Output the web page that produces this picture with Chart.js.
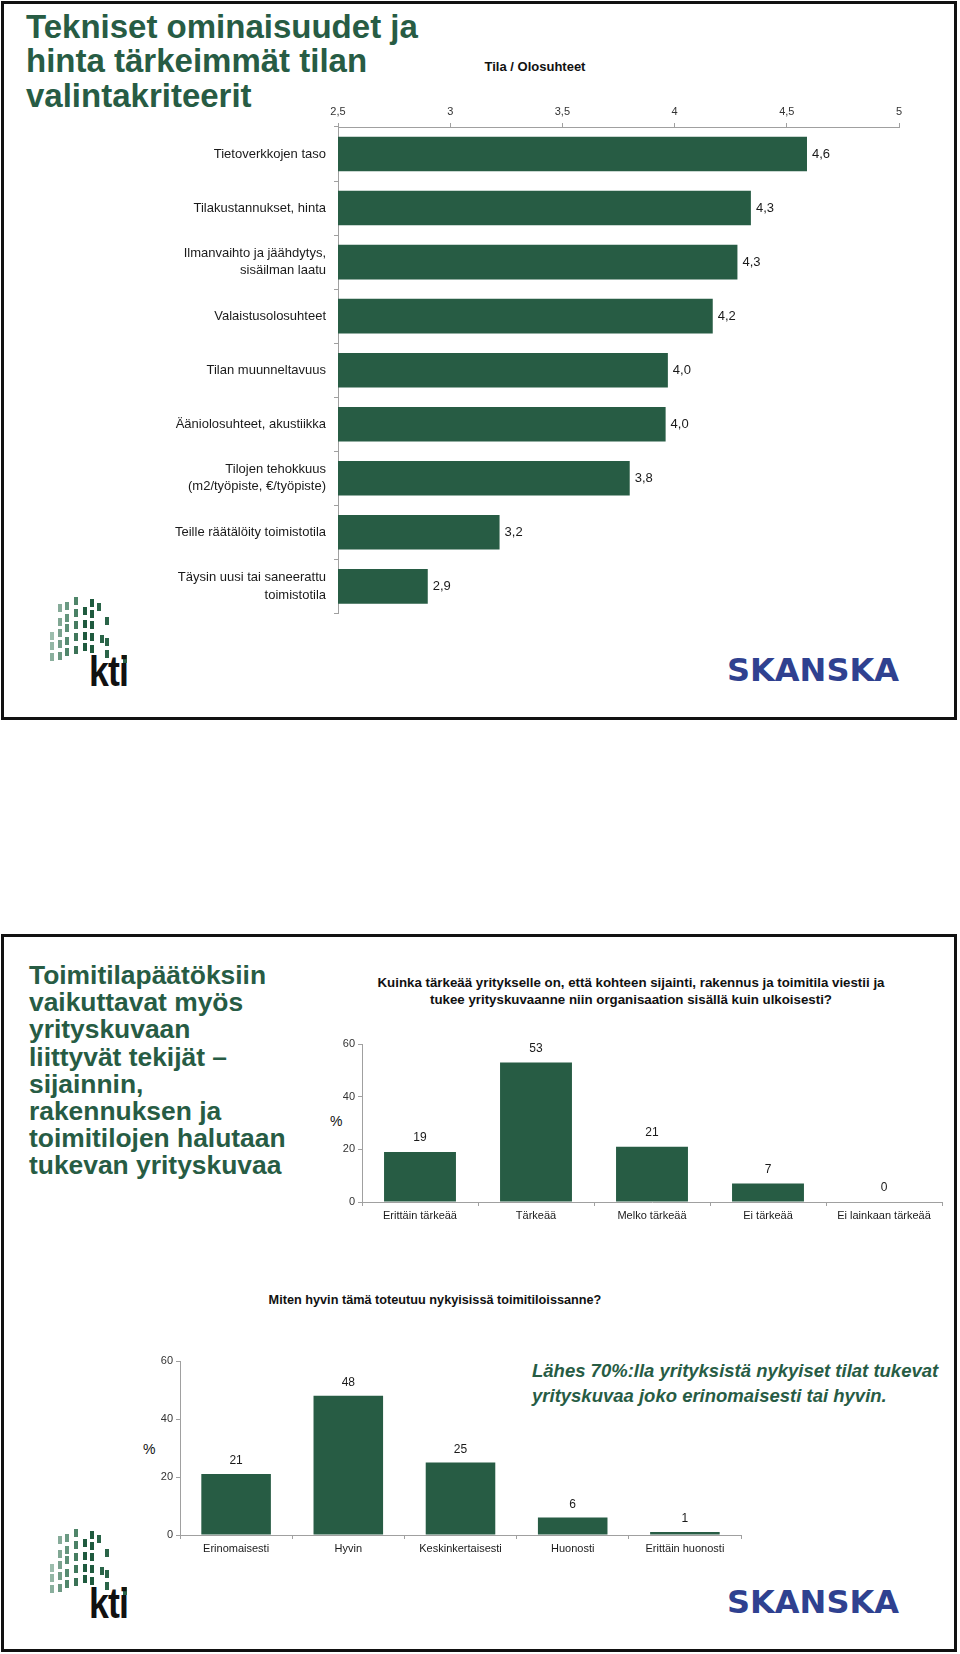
<!DOCTYPE html>
<html>
<head>
<meta charset="utf-8">
<script src="https://cdn.jsdelivr.net/npm/chart.js@4.4.1/dist/chart.umd.min.js"></script>
<style>
  html, body { margin: 0; padding: 0; }
  body { width: 960px; height: 1654px; position: relative; background: #fff; overflow: hidden;
         font-family: "Liberation Sans", Arial, sans-serif; color: #111; }
  .abs { position: absolute; }
  .panel { position: absolute; left: 1px; width: 956px; border: 3px solid #111; box-sizing: border-box; }
  .green { color: #275c44; }
  .bigtitle { font-weight: bold; font-size: 33px; line-height: 34.5px; white-space: nowrap; }
  .sidetitle { font-weight: bold; font-size: 26.4px; line-height: 27.2px; white-space: nowrap; }
  .ctitle { font-weight: bold; font-size: 12px; text-align: center; white-space: nowrap; color: #111; }
  .pct { font-size: 14px; color: #111; }
  .skanska { font-family: "DejaVu Sans", sans-serif; font-weight: bold; font-size: 32px; line-height: 32px; color: #2f4190; white-space: nowrap; }
  .kti { font-weight: bold; font-size: 42px; line-height: 42px; color: #111; transform: scaleX(0.85); transform-origin: left top; letter-spacing: -1px; }
  .blk { position: absolute; }
  canvas { position: absolute; }
</style>
</head>
<body>

<div class="panel" style="top:1px;height:719px;"></div>
<div class="panel" style="top:934px;height:718px;"></div>

<div class="abs bigtitle green" style="left:26px;top:9.5px;">Tekniset ominaisuudet ja<br>hinta tärkeimmät tilan<br>valintakriteerit</div>
<div class="abs ctitle" style="left:435px;top:59px;width:200px;font-size:13px;line-height:16px;">Tila / Olosuhteet</div>

<div class="abs sidetitle green" style="left:29px;top:962px;">Toimitilapäätöksiin<br>vaikuttavat myös<br>yrityskuvaan<br>liittyvät tekijät –<br>sijainnin,<br>rakennuksen ja<br>toimitilojen halutaan<br>tukevan yrityskuvaa</div>
<div class="abs ctitle" style="left:281px;top:973.5px;width:700px;font-size:13.3px;line-height:17.5px;">Kuinka tärkeää yritykselle on, että kohteen sijainti, rakennus ja toimitila viestii ja<br>tukee yrityskuvaanne niin organisaation sisällä kuin ulkoisesti?</div>
<div class="abs pct" style="left:330px;top:1113px;">%</div>

<div class="abs ctitle" style="left:235px;top:1292px;width:400px;font-size:12.7px;line-height:17px;">Miten hyvin tämä toteutuu nykyisissä toimitiloissanne?</div>
<div class="abs pct" style="left:143px;top:1441px;">%</div>
<div class="abs green" style="left:532px;top:1358px;font-weight:bold;font-style:italic;font-size:18.5px;line-height:25px;white-space:nowrap;">Lähes 70%:lla yrityksistä nykyiset tilat tukevat<br>yrityskuvaa joko erinomaisesti tai hyvin.</div>

<div class="abs skanska" style="left:727px;top:654px;">SKANSKA</div>
<div class="abs skanska" style="left:727px;top:1586px;">SKANSKA</div>
<div id="logo1" class="abs" style="left:40px;top:590px;width:95px;height:80px;"></div>
<div id="logo2" class="abs" style="left:40px;top:1522px;width:95px;height:80px;"></div>
<div class="abs kti" style="left:89px;top:651px;">kti</div>
<div class="abs kti" style="left:89px;top:1583px;">kti</div>

<canvas id="c1" width="780" height="535" style="left:140px;top:95px;"></canvas>
<canvas id="c2" width="650" height="200" style="left:300px;top:1030px;"></canvas>
<canvas id="c3" width="640" height="225" style="left:120px;top:1340px;"></canvas>

<script>
// ---------- DATA ----------
const criteriaLabels = [
  "Tietoverkkojen taso",
  "Tilakustannukset, hinta",
  ["Ilmanvaihto ja jäähdytys,", "sisäilman laatu"],
  "Valaistusolosuhteet",
  "Tilan muunneltavuus",
  "Ääniolosuhteet, akustiikka",
  ["Tilojen tehokkuus", "(m2/työpiste, €/työpiste)"],
  "Teille räätälöity toimistotila",
  ["Täysin uusi tai saneerattu", "toimistotila"]
];
const criteriaValues = [4.59, 4.34, 4.28, 4.17, 3.97, 3.96, 3.80, 3.22, 2.90];
const criteriaTicks = [2.5, 3, 3.5, 4, 4.5, 5];

const imageCategories = ["Erittäin tärkeää", "Tärkeää", "Melko tärkeää", "Ei tärkeää", "Ei lainkaan tärkeää"];
const imageValues = [19, 53, 21, 7, 0];

const realizeCategories = ["Erinomaisesti", "Hyvin", "Keskinkertaisesti", "Huonosti", "Erittäin huonosti"];
const realizeValues = [21, 48, 25, 6, 1];

const percentTicks = [0, 20, 40, 60];

// ---------- STYLE ----------
const BAR = "#275c44";
const AXIS = "#a0a0a0";
const TXT = "#1a1a1a";
const FONT = "'Liberation Sans', Arial, sans-serif";

const valueLabels = {
  id: "valueLabels",
  afterDatasetsDraw(chart, args, opts) {
    const ctx = chart.ctx;
    const meta = chart.getDatasetMeta(0);
    const data = chart.data.datasets[0].data;
    ctx.save();
    ctx.font = opts.size + "px " + FONT;
    ctx.fillStyle = TXT;
    ctx.textBaseline = "middle";
    meta.data.forEach((bar, i) => {
      const txt = opts.format(data[i]);
      if (chart.options.indexAxis === "y") {
        ctx.textAlign = "left";
        ctx.fillText(txt, bar.x + opts.offset, bar.y);
      } else {
        ctx.textAlign = "center";
        ctx.fillText(txt, bar.x, bar.y - opts.offset);
      }
    });
    ctx.restore();
  }
};
Chart.register(valueLabels);

const comma = v => String(v).replace(".", ",");

// Chart 1: horizontal bars
new Chart(document.getElementById("c1"), {
  type: "bar",
  data: {
    labels: criteriaLabels,
    datasets: [{ data: criteriaValues, backgroundColor: BAR, barPercentage: 0.64, categoryPercentage: 1 }]
  },
  options: {
    indexAxis: "y",
    responsive: false, animation: false,
    layout: { padding: { top: 0, right: 21, bottom: 10, left: 0 } },
    plugins: {
      legend: { display: false }, tooltip: { enabled: false },
      valueLabels: { size: 13, offset: 5, format: v => v.toFixed(1).replace(".", ",") }
    },
    scales: {
      x: {
        type: "linear", position: "top", min: 2.5, max: 5,
        afterBuildTicks: s => { s.ticks = criteriaTicks.map(v => ({ value: v })); },
        afterFit: s => { s.height = 32; },
        grid: { drawOnChartArea: false, tickLength: 4, color: AXIS },
        border: { color: AXIS },
        ticks: { font: { size: 11, family: FONT }, color: "#333", padding: 4, callback: v => comma(v), maxRotation: 0 }
      },
      y: {
        afterFit: s => { s.width = 198; },
        grid: { drawOnChartArea: false, tickLength: 4, color: AXIS, offset: true },
        border: { color: AXIS },
        ticks: { font: { size: 13, family: FONT, lineHeight: 1.33 }, color: TXT, padding: 8, autoSkip: false }
      }
    }
  }
});

function columnChart(id, labels, values, opts) {
  return new Chart(document.getElementById(id), {
    type: "bar",
    data: {
      labels: labels,
      datasets: [{ data: values, backgroundColor: BAR, barPercentage: 0.62, categoryPercentage: 1 }]
    },
    options: {
      responsive: false, animation: false,
      layout: { padding: opts.padding },
      plugins: {
        legend: { display: false }, tooltip: { enabled: false },
        valueLabels: { size: 12, offset: opts.labelOffset, format: v => String(v) }
      },
      scales: {
        x: {
          afterFit: s => { s.height = opts.xHeight; },
          grid: { drawOnChartArea: false, tickLength: 4, color: AXIS, offset: true },
          border: { color: AXIS },
          ticks: { font: { size: 11, family: FONT }, color: TXT, padding: 3, maxRotation: 0, autoSkip: false }
        },
        y: {
          min: 0, max: 60,
          afterBuildTicks: s => { s.ticks = percentTicks.map(v => ({ value: v })); },
          afterFit: s => { s.width = opts.yWidth; },
          grid: { drawOnChartArea: false, tickLength: 4, color: AXIS },
          border: { color: AXIS },
          ticks: { font: { size: 11, family: FONT }, color: "#333", padding: 3 }
        }
      }
    }
  });
}

columnChart("c2", imageCategories, imageValues,
  { padding: { top: 14, right: 8, bottom: 0, left: 0 }, xHeight: 28, yWidth: 62, labelOffset: 14 });
columnChart("c3", realizeCategories, realizeValues,
  { padding: { top: 21, right: 19, bottom: 0, left: 0 }, xHeight: 30, yWidth: 60, labelOffset: 13 });

// ---------- kti logo decoration (building of small blocks) ----------
const logoBlocks = [
  [10,42,"#9cbdad"],[10,52,"#93b6a5"],[10,63,"#8aaf9d"],
  [18,14,"#86ab99"],[18,28,"#80a793"],[18,39,"#7aa28e"],[18,50,"#739d88"],[18,62,"#6c9882"],
  [25,12,"#6b9a83"],[25,24,"#64957d"],[25,34,"#5d9077"],[25,47,"#568b71"],[25,58,"#50866b"],
  [34,7,"#4f8569"],[34,19,"#4a8165"],[34,31,"#457c60"],[34,43,"#40775b"],[34,56,"#3b7256"],
  [43,17,"#1f5a3e"],[43,30,"#1f5a3e"],[43,42,"#1f5a3e"],[43,53,"#1f5a3e"],
  [50,9,"#1f5a3e"],[50,20,"#1f5a3e"],[50,31,"#1f5a3e"],[50,43,"#1f5a3e"],[50,55,"#1f5a3e"],
  [57,13,"#2a6448"],[60,45,"#2a6448"],
  [65,27,"#2a6448"],[65,48,"#2a6448"],[65,60,"#2a6448"],
  [83,65,"#2a6448"]
];
function drawLogo(el) {
  logoBlocks.forEach(([x, y, col]) => {
    const d = document.createElement("div");
    d.className = "blk";
    d.style.left = x + "px";
    d.style.top = y + "px";
    d.style.width = "4px";
    d.style.height = "8px";
    d.style.background = col;
    el.appendChild(d);
  });
}
drawLogo(document.getElementById("logo1"));
drawLogo(document.getElementById("logo2"));
</script>
</body>
</html>
